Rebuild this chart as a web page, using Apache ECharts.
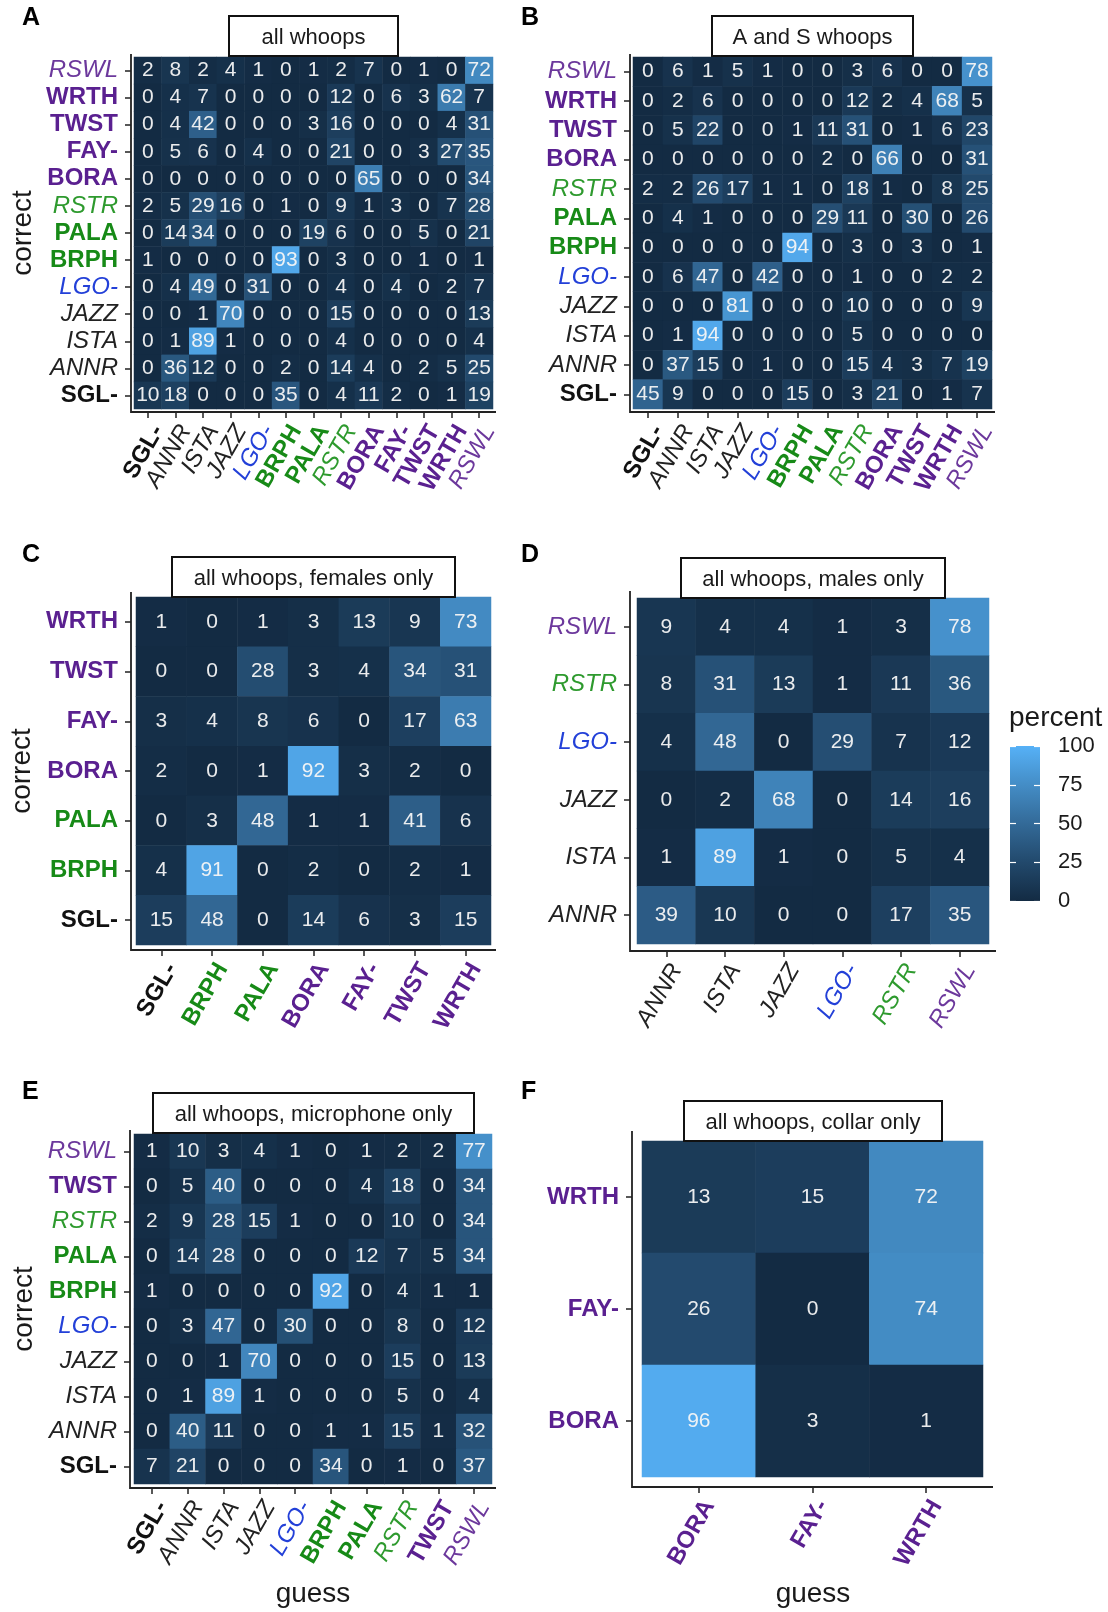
<!DOCTYPE html>
<html>
<head>
<meta charset="utf-8">
<script src="https://cdn.jsdelivr.net/npm/echarts@6/dist/echarts.min.js"></script>
<style>html,body{margin:0;padding:0;background:#fff}#c{width:1108px;height:1612px}</style>
</head>
<body>
<div id="c"></div>
<script>
// ---------- DATA ----------
const xCatsA = ['SGL-','ANNR','ISTA','JAZZ','LGO-','BRPH','PALA','RSTR','BORA','FAY-','TWST','WRTH','RSWL'];
const yCatsA = ['RSWL','WRTH','TWST','FAY-','BORA','RSTR','PALA','BRPH','LGO-','JAZZ','ISTA','ANNR','SGL-'];
const matA = [
  [2,8,2,4,1,0,1,2,7,0,1,0,72],
  [0,4,7,0,0,0,0,12,0,6,3,62,7],
  [0,4,42,0,0,0,3,16,0,0,0,4,31],
  [0,5,6,0,4,0,0,21,0,0,3,27,35],
  [0,0,0,0,0,0,0,0,65,0,0,0,34],
  [2,5,29,16,0,1,0,9,1,3,0,7,28],
  [0,14,34,0,0,0,19,6,0,0,5,0,21],
  [1,0,0,0,0,93,0,3,0,0,1,0,1],
  [0,4,49,0,31,0,0,4,0,4,0,2,7],
  [0,0,1,70,0,0,0,15,0,0,0,0,13],
  [0,1,89,1,0,0,0,4,0,0,0,0,4],
  [0,36,12,0,0,2,0,14,4,0,2,5,25],
  [10,18,0,0,0,35,0,4,11,2,0,1,19]
];
const xCatsB = ['SGL-','ANNR','ISTA','JAZZ','LGO-','BRPH','PALA','RSTR','BORA','TWST','WRTH','RSWL'];
const yCatsB = ['RSWL','WRTH','TWST','BORA','RSTR','PALA','BRPH','LGO-','JAZZ','ISTA','ANNR','SGL-'];
const matB = [
  [0,6,1,5,1,0,0,3,6,0,0,78],
  [0,2,6,0,0,0,0,12,2,4,68,5],
  [0,5,22,0,0,1,11,31,0,1,6,23],
  [0,0,0,0,0,0,2,0,66,0,0,31],
  [2,2,26,17,1,1,0,18,1,0,8,25],
  [0,4,1,0,0,0,29,11,0,30,0,26],
  [0,0,0,0,0,94,0,3,0,3,0,1],
  [0,6,47,0,42,0,0,1,0,0,2,2],
  [0,0,0,81,0,0,0,10,0,0,0,9],
  [0,1,94,0,0,0,0,5,0,0,0,0],
  [0,37,15,0,1,0,0,15,4,3,7,19],
  [45,9,0,0,0,15,0,3,21,0,1,7]
];
const xCatsC = ['SGL-','BRPH','PALA','BORA','FAY-','TWST','WRTH'];
const yCatsC = ['WRTH','TWST','FAY-','BORA','PALA','BRPH','SGL-'];
const matC = [
  [1,0,1,3,13,9,73],
  [0,0,28,3,4,34,31],
  [3,4,8,6,0,17,63],
  [2,0,1,92,3,2,0],
  [0,3,48,1,1,41,6],
  [4,91,0,2,0,2,1],
  [15,48,0,14,6,3,15]
];
const xCatsD = ['ANNR','ISTA','JAZZ','LGO-','RSTR','RSWL'];
const yCatsD = ['RSWL','RSTR','LGO-','JAZZ','ISTA','ANNR'];
const matD = [
  [9,4,4,1,3,78],
  [8,31,13,1,11,36],
  [4,48,0,29,7,12],
  [0,2,68,0,14,16],
  [1,89,1,0,5,4],
  [39,10,0,0,17,35]
];
const xCatsE = ['SGL-','ANNR','ISTA','JAZZ','LGO-','BRPH','PALA','RSTR','TWST','RSWL'];
const yCatsE = ['RSWL','TWST','RSTR','PALA','BRPH','LGO-','JAZZ','ISTA','ANNR','SGL-'];
const matE = [
  [1,10,3,4,1,0,1,2,2,77],
  [0,5,40,0,0,0,4,18,0,34],
  [2,9,28,15,1,0,0,10,0,34],
  [0,14,28,0,0,0,12,7,5,34],
  [1,0,0,0,0,92,0,4,1,1],
  [0,3,47,0,30,0,0,8,0,12],
  [0,0,1,70,0,0,0,15,0,13],
  [0,1,89,1,0,0,0,5,0,4],
  [0,40,11,0,0,1,1,15,1,32],
  [7,21,0,0,0,34,0,1,0,37]
];
const xCatsF = ['BORA','FAY-','WRTH'];
const yCatsF = ['WRTH','FAY-','BORA'];
const matF = [
  [13,15,72],
  [26,0,74],
  [96,3,1]
];
const stripTitles = ['all whoops','A and S whoops','all whoops, females only','all whoops, males only','all whoops, microphone only','all whoops, collar only'];
const panelLetters = ['A','B','C','D','E','F'];
const legendTicks = [0,25,50,75,100];

// ---------- STYLE / LAYOUT ----------
const FONT = '"Liberation Sans", Arial, Helvetica, sans-serif';
const PURPLE = '#5A2090', PURPLE_I = '#6C389C', GREEN = '#178A17', GREEN_I = '#2E9A2E', BLUE = '#2340D8';
const labStyles = {
  'SGL-': {k:'SGL', c:'#111111', w:'bold', s:'normal'},
  'ANNR': {k:'ANNR', c:'#222222', w:'normal', s:'italic'},
  'ISTA': {k:'ISTA', c:'#222222', w:'normal', s:'italic'},
  'JAZZ': {k:'JAZZ', c:'#222222', w:'normal', s:'italic'},
  'LGO-': {k:'LGO', c:BLUE, w:'normal', s:'italic'},
  'BRPH': {k:'BRPH', c:GREEN, w:'bold', s:'normal'},
  'PALA': {k:'PALA', c:GREEN, w:'bold', s:'normal'},
  'RSTR': {k:'RSTR', c:GREEN_I, w:'normal', s:'italic'},
  'BORA': {k:'BORA', c:PURPLE, w:'bold', s:'normal'},
  'FAY-': {k:'FAY', c:PURPLE, w:'bold', s:'normal'},
  'TWST': {k:'TWST', c:PURPLE, w:'bold', s:'normal'},
  'WRTH': {k:'WRTH', c:PURPLE, w:'bold', s:'normal'},
  'RSWL': {k:'RSWL', c:PURPLE_I, w:'normal', s:'italic'}
};
const rich = {};
Object.keys(labStyles).forEach(n => {
  const st = labStyles[n];
  rich[st.k] = {color: st.c, fontWeight: st.w, fontStyle: st.s, fontSize: 24, fontFamily: FONT};
});
const fmt = v => '{' + labStyles[v].k + '|' + v + '}';

const panels = [
  {x:xCatsA, y:yCatsA, m:matA, left:134, top:57, width:359, height:352, off:3, strip:[229,16,169,40], letter:[22,18], correct:[23,233]},
  {x:xCatsB, y:yCatsB, m:matB, left:633, top:57, width:359, height:352, off:3, strip:[712,16,201,40], letter:[521,18]},
  {x:xCatsC, y:yCatsC, m:matC, left:136, top:597, width:355, height:348, off:5, strip:[172,557,283,40], letter:[22,555], correct:[22,771]},
  {x:xCatsD, y:yCatsD, m:matD, left:637, top:598, width:352, height:346, off:7, strip:[681,558,264,40], letter:[521,555]},
  {x:xCatsE, y:yCatsE, m:matE, left:134, top:1134, width:358, height:350, off:4, strip:[153,1093,321,40], letter:[22,1092], correct:[24,1309], guess:[313,1594]},
  {x:xCatsF, y:yCatsF, m:matF, left:642, top:1141, width:341, height:336, off:10, strip:[684,1101,258,40], letter:[521,1092], guess:[813,1594]}
];
const colorStops = ['#132B43','#22496C','#336A98','#448DC6','#56B1F7'];
const AX = '#222222';

const grid = [], xAxis = [], yAxis = [], series = [], graphic = [];
panels.forEach((p, i) => {
  grid.push({left:p.left, top:p.top, width:p.width, height:p.height});
  xAxis.push({
    type:'category', gridIndex:i, data:p.x, position:'bottom', offset:p.off,
    axisLine:{show:false},
    axisTick:{show:true, alignWithLabel:true, length:6, lineStyle:{color:AX, width:1.5}},
    axisLabel:{interval:0, rotate:60, margin:9, align:'right', verticalAlign:'top', formatter:fmt, rich:rich},
    splitLine:{show:false}
  });
  yAxis.push({
    type:'category', gridIndex:i, data:p.y, inverse:true, offset:p.off,
    axisLine:{show:false},
    axisTick:{show:true, alignWithLabel:true, length:6, lineStyle:{color:AX, width:1.5}},
    axisLabel:{interval:0, margin:13, formatter:fmt, rich:rich},
    splitLine:{show:false}
  });
  const data = [];
  p.m.forEach((row, r) => row.forEach((v, c) => data.push([c, r, v])));
  series.push({
    type:'heatmap', xAxisIndex:i, yAxisIndex:i, data:data, silent:true, progressive:0,
    label:{show:true, formatter:q => q.value[2], color:'rgba(245,245,245,0.95)', fontSize:21, fontFamily:FONT},
    emphasis:{disabled:true}
  });
  // panel axis lines (span the whole panel incl. expansion)
  const x0 = p.left - p.off, x1 = p.left + p.width + p.off;
  const y0 = p.top - p.off, y1 = p.top + p.height + p.off;
  graphic.push({type:'polyline', z:50, shape:{points:[[x0, y0],[x0, y1],[x1, y1]]},
    style:{stroke:AX, lineWidth:1.8, fill:null}});
  // strip box
  graphic.push({type:'rect', shape:{x:p.strip[0], y:p.strip[1], width:p.strip[2], height:p.strip[3]},
    style:{fill:'#ffffff', stroke:'#111111', lineWidth:2}, z:100});
  graphic.push({type:'text', x:p.strip[0] + p.strip[2]/2, y:p.strip[1] + p.strip[3]/2 + 2, z:101,
    style:{text:stripTitles[i], fontSize:22, fontFamily:FONT, fill:'#1a1a1a', align:'center', verticalAlign:'middle'}});
  graphic.push({type:'text', x:p.letter[0], y:p.letter[1], z:101,
    style:{text:panelLetters[i], fontSize:25, fontWeight:'bold', fontFamily:FONT, fill:'#000', align:'left', verticalAlign:'middle'}});
  if (p.correct) graphic.push({type:'text', x:p.correct[0], y:p.correct[1], rotation:Math.PI/2, z:101,
    style:{text:'correct', fontSize:28, fontFamily:FONT, fill:'#1a1a1a', align:'center', verticalAlign:'middle'}});
  if (p.guess) graphic.push({type:'text', x:p.guess[0], y:p.guess[1], z:101,
    style:{text:'guess', fontSize:28, fontFamily:FONT, fill:'#1a1a1a', align:'center', verticalAlign:'middle'}});
});

// legend (colour bar) as its own small grid
grid.push({left:1010, top:746, width:30, height:155});
xAxis.push({type:'category', gridIndex:6, data:['percent'], show:false});
yAxis.push({type:'value', gridIndex:6, min:0, max:100, interval:25, position:'left', z:10,
  axisLine:{show:false}, axisLabel:{show:false}, splitLine:{show:false},
  axisTick:{show:true, inside:true, length:6, lineStyle:{color:'#ffffff', width:1.2}}});
yAxis.push({type:'value', gridIndex:6, min:0, max:100, interval:25, position:'right', z:10,
  axisLine:{show:false}, splitLine:{show:false},
  axisTick:{show:true, inside:true, length:6, lineStyle:{color:'#ffffff', width:1.2}},
  axisLabel:{show:true, margin:18, fontSize:22, color:'#1a1a1a', fontFamily:FONT,
    formatter: v => legendTicks.indexOf(v) >= 0 ? String(v) : ''}});
series.push({type:'bar', xAxisIndex:6, yAxisIndex:6, data:[100], barWidth:'100%', silent:true,
  itemStyle:{color:new echarts.graphic.LinearGradient(0,1,0,0, colorStops.map((c,k)=>({offset:k/(colorStops.length-1), color:c})))}});
graphic.push({type:'text', x:1009, y:718, z:101,
  style:{text:'percent', fontSize:28, fontFamily:FONT, fill:'#1a1a1a', align:'left', verticalAlign:'middle'}});

const chart = echarts.init(document.getElementById('c'), null, {renderer:'canvas'});
chart.setOption({
  animation:false,
  backgroundColor:'#ffffff',
  textStyle:{fontFamily:FONT},
  grid, xAxis, yAxis, series, graphic,
  visualMap:{type:'continuous', show:false, min:0, max:100, seriesIndex:[0,1,2,3,4,5], dimension:2,
    inRange:{color:colorStops}}
});
</script>
</body>
</html>
